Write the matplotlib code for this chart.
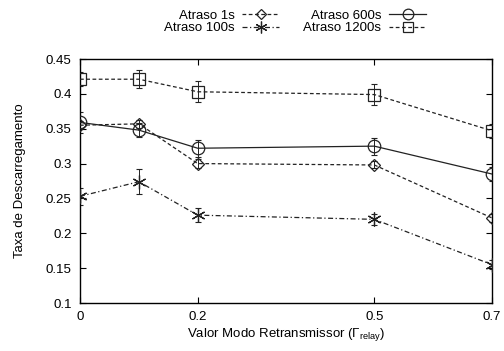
import numpy as np
from matplotlib import pyplot as plt
from matplotlib.lines import Line2D

plt.rcParams['font.family'] = ['Liberation Sans', 'DejaVu Sans']
plt.rcParams['font.size'] = 9.5
plt.rcParams['mathtext.fontset'] = 'custom'
plt.rcParams['mathtext.rm'] = 'Liberation Sans'

# dados
x = [0, 0.1, 0.2, 0.5, 0.7]
atraso_1s = [0.355, 0.357, 0.300, 0.298, 0.222]
atraso_1s_err = [0.006, 0.006, 0.006, 0.005, 0.006]
atraso_100s = [0.253, 0.274, 0.226, 0.220, 0.155]
atraso_100s_err = [0.012, 0.018, 0.010, 0.008, 0.006]
atraso_600s = [0.359, 0.348, 0.322, 0.325, 0.285]
atraso_600s_err = [0.015, 0.010, 0.012, 0.012, 0.010]
atraso_1200s = [0.421, 0.421, 0.403, 0.399, 0.347]
atraso_1200s_err = [0.010, 0.013, 0.015, 0.015, 0.010]

xticks = [0, 0.2, 0.5, 0.7]
xtick_labels = ['0', '0.2', '0.5', '0.7']
yticks = [0.1, 0.15, 0.2, 0.25, 0.3, 0.35, 0.4, 0.45]
ytick_labels = ['0.1', '0.15', '0.2', '0.25', '0.3', '0.35', '0.4', '0.45']

fig = plt.figure(figsize=(5.04, 3.51), dpi=100)
ax = fig.add_axes([80 / 504, 1 - 303 / 351, (492 - 80) / 504, (303 - 59) / 351])

c = '#222222'
series = [
    ('Atraso 1s', atraso_1s, atraso_1s_err, (0, (3, 2)), 'D', 6),
    ('Atraso 100s', atraso_100s, atraso_100s_err, (0, (4, 2, 1, 2)), (6, 2, 0), 10),
    ('Atraso 600s', atraso_600s, atraso_600s_err, '-', 'o', 9),
    ('Atraso 1200s', atraso_1200s, atraso_1200s_err, (0, (3, 2)), 's', 9),
]

handles = {}
for name, y, err, ls, mk, ms in series:
    ax.errorbar(x, y, yerr=err, fmt='none', ecolor=c, elinewidth=0.7,
                capsize=2, capthick=0.8, linestyle=(0, (2, 1.5)), zorder=2)
    ax.plot(x, y, color=c, linestyle=ls, linewidth=0.9, marker=mk,
            markersize=ms, markerfacecolor='none', markeredgecolor=c,
            markeredgewidth=0.9, zorder=3)
    handles[name] = Line2D([], [], color=c, linestyle=ls, linewidth=0.9,
                           marker=mk, markersize=ms * 0.85, markerfacecolor='none',
                           markeredgecolor=c, markeredgewidth=0.9)

ax.set_xlim(0, 0.7)
ax.set_ylim(0.1, 0.45)
ax.set_xticks(xticks)
ax.set_xticklabels(xtick_labels)
ax.set_yticks(yticks)
ax.set_yticklabels(ytick_labels)
ax.tick_params(direction='in', top=True, right=True, length=4, width=0.8, pad=6)
for s in ax.spines.values():
    s.set_linewidth(1.0)

ax.set_xlabel(r'Valor Modo Retransmissor ($\Gamma_{\mathrm{relay}}$)', labelpad=2)
ax.set_ylabel('Taxa de Descarregamento', labelpad=14)

order = ['Atraso 1s', 'Atraso 100s', 'Atraso 600s', 'Atraso 1200s']
fig.legend([handles[n] for n in order], order, ncol=2, markerfirst=False,
           frameon=False, loc='center', bbox_to_anchor=(295 / 504, 1 - 22 / 351),
           handlelength=2.8, handletextpad=0.6, columnspacing=1.8,
           labelspacing=0.0, borderpad=0)

fig.savefig('out.png', dpi=100)
